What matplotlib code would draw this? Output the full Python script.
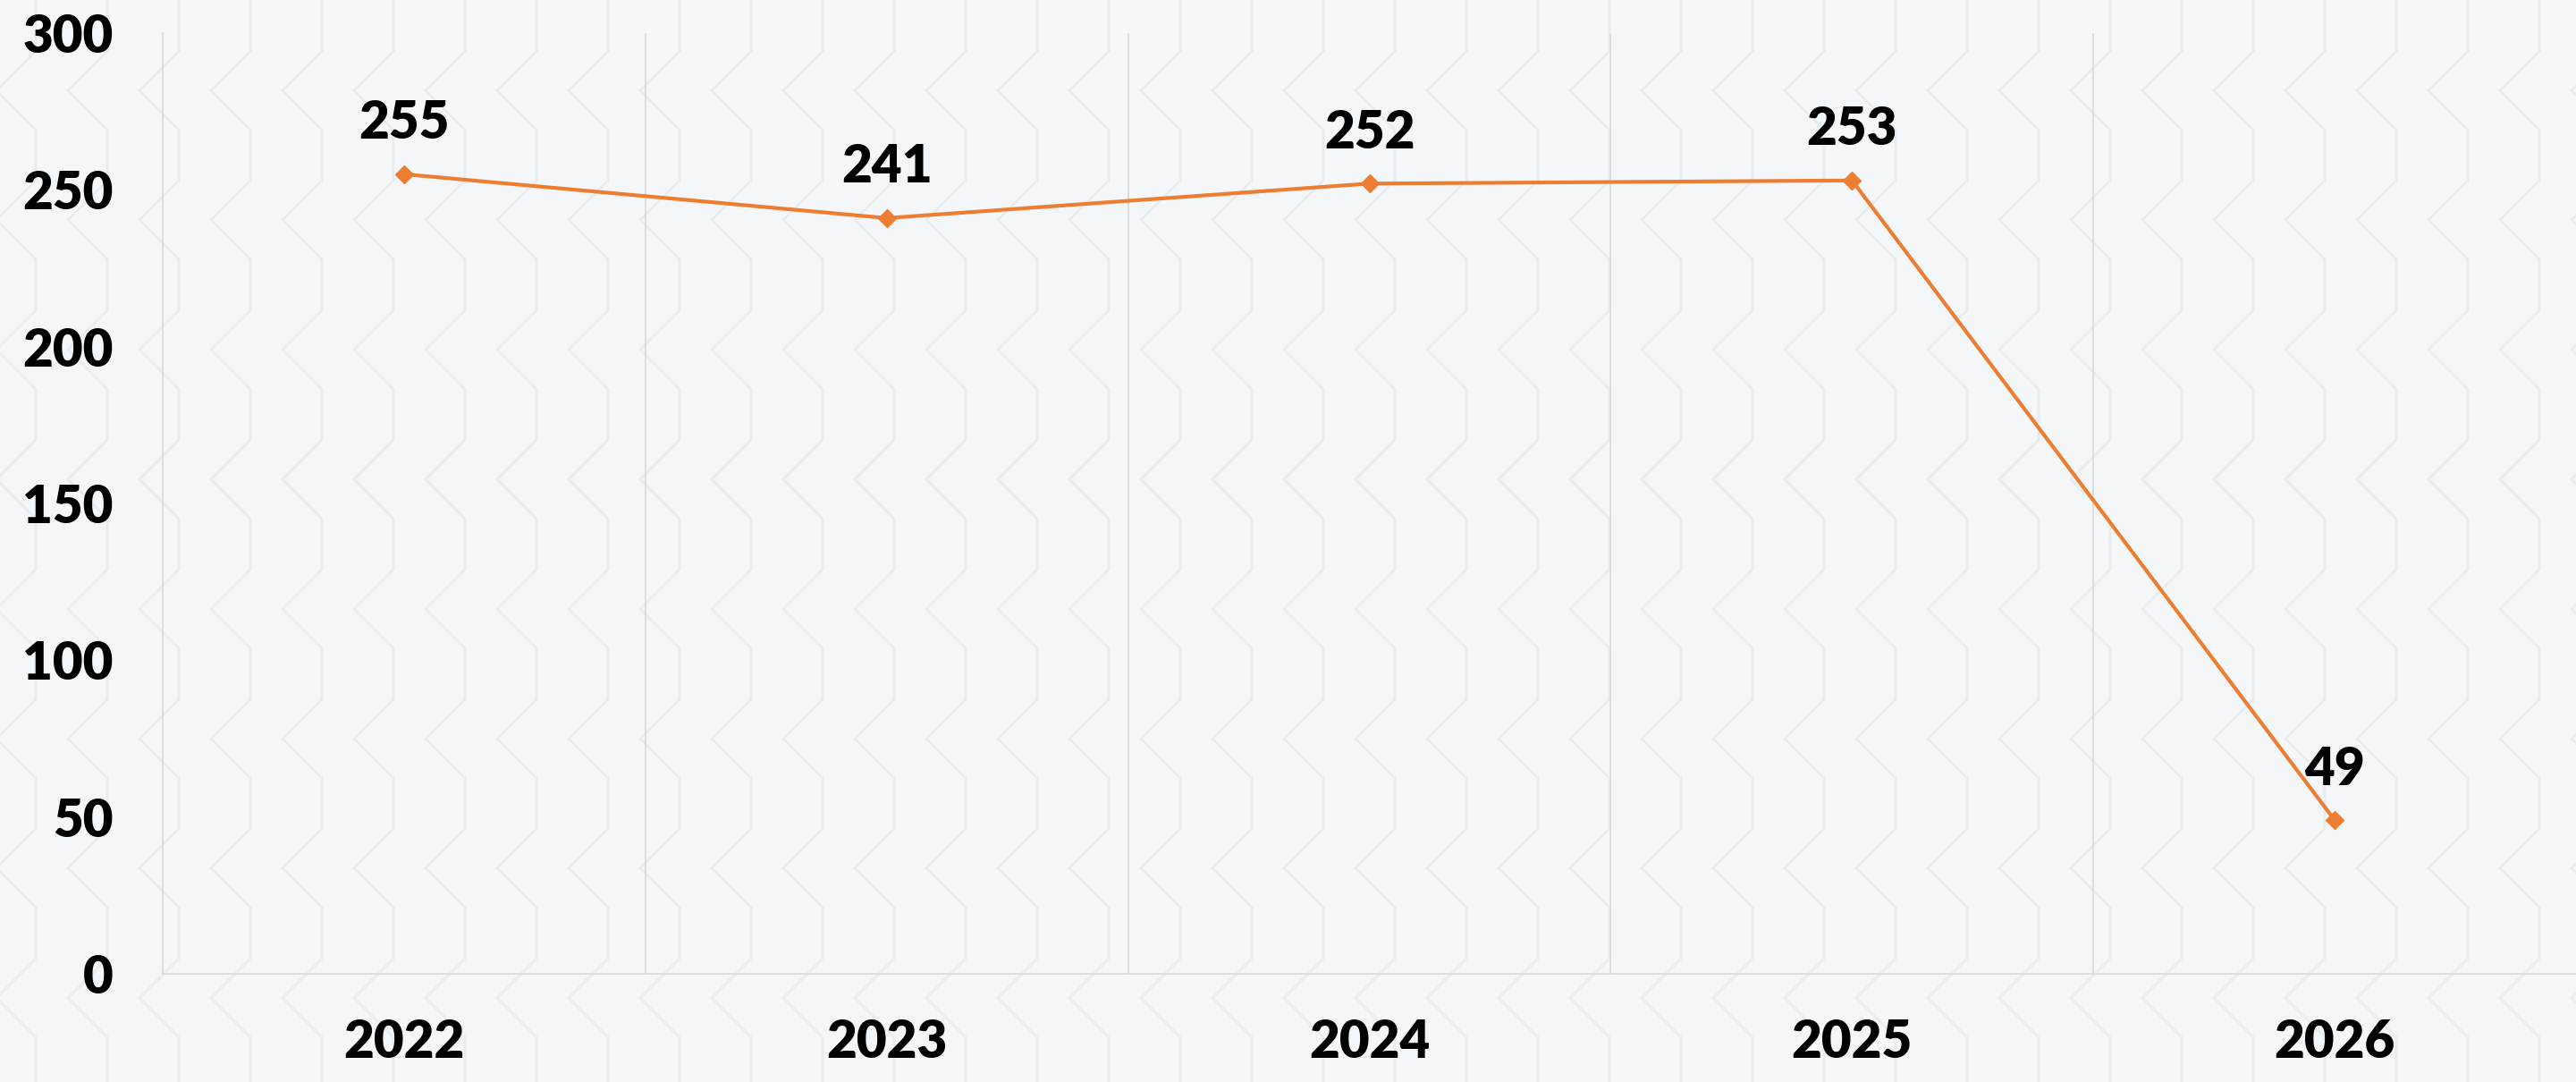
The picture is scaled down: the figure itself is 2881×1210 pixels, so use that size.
import numpy as np
import matplotlib.pyplot as plt

years = ["2022", "2023", "2024", "2025", "2026"]
values = [255, 241, 252, 253, 49]
y_ticks = [0, 50, 100, 150, 200, 250, 300]

ORANGE = "#ED7D31"
BG = "#f4f7fa"

plt.rcParams["font.family"] = ["Lato", "DejaVu Sans"]

W, H, DPI = 2881, 1210, 100
fig = plt.figure(figsize=(W / DPI, H / DPI), dpi=DPI, facecolor=BG)

# faint chevron background pattern
bg = fig.add_axes([0, 0, 1, 1], zorder=0)
bg.set_xlim(0, W)
bg.set_ylim(H, 0)
bg.set_axis_off()
bg.set_facecolor(BG)
period, vert, dx = 145, 57, 44
for x0 in np.arange(-40, W + 80, 80):
    xs, ys = [], []
    y = -period
    while y < H + period:
        xs += [x0, x0, x0 - dx, x0]
        ys += [y, y + vert, y + vert + (period - vert) / 2, y + period]
        y += period
    bg.plot(xs, ys, color="#e9ecef", lw=2.0, solid_joinstyle="miter")

ax = fig.add_axes([182 / W, 1 - 1089 / H, 1 - 182 / W, (1089 - 37) / H], zorder=1)
ax.set_facecolor("none")

x = np.arange(len(years))
ax.plot(x, values, color=ORANGE, lw=3.0, marker="D", ms=10, mec=ORANGE, mfc=ORANGE)
for xi, v in zip(x, values):
    ax.annotate(str(v), (xi, v), xytext=(0, 41), textcoords="offset points",
                ha="center", va="center", fontsize=42, fontweight="heavy", color="black")

ax.set_xlim(-0.5, len(years) - 0.5)
ax.set_ylim(0, 300)
ax.set_yticks(y_ticks)
ax.set_yticklabels([str(t) for t in y_ticks], fontsize=42, fontweight="heavy")
ax.set_xticks(x)
ax.set_xticklabels(years, fontsize=42, fontweight="heavy")
ax.tick_params(axis="y", length=0, pad=40)
ax.tick_params(axis="x", length=0, pad=36)

for b in np.arange(0.5, len(years) - 0.5, 1.0):
    ax.axvline(b, color="#d9d9d9", lw=1.2, zorder=0)
for side in ["top", "right"]:
    ax.spines[side].set_visible(False)
for side in ["left", "bottom"]:
    ax.spines[side].set_color("#d9d9d9")
    ax.spines[side].set_linewidth(1.2)

fig.savefig("out.png", dpi=DPI, facecolor=BG)
